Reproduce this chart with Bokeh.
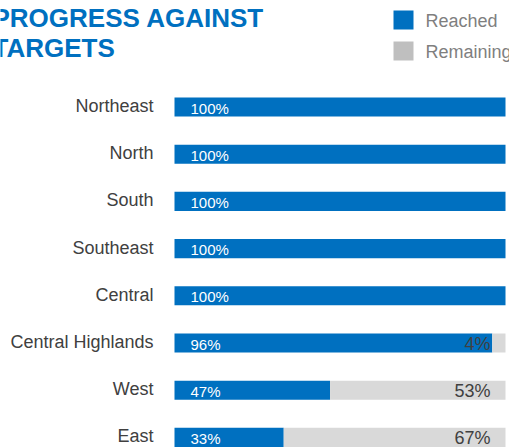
from bokeh.plotting import figure
from bokeh.models import Range1d, ColumnDataSource
from bokeh.core.properties import value
from bokeh.embed import file_html
from bokeh.resources import INLINE

# ---- data ----
regions = ["Northeast", "North", "South", "Southeast", "Central",
           "Central Highlands", "West", "East"]
reached = [100, 100, 100, 100, 100, 96, 47, 33]
remaining = [0, 0, 0, 0, 0, 4, 53, 67]
title_lines = ["PROGRESS AGAINST", "TARGETS"]
legend_labels = ["Reached", "Remaining"]

BLUE = "#0070C0"
GRAY = "#D9D9D9"
LEG_GRAY = "#BFBFBF"
FONT = value("Liberation Sans")

W, H = 509, 448
X0, XS = 174.0, 3.31      # pixel of x=0, pixels per unit
Y0, YS = 106.5, 47.2      # pixel of first row centre, pixels per row

def dx(px):
    return (px - X0) / XS

def dy(py):
    return (py - Y0) / YS

p = figure(width=W, height=H, output_backend="svg", toolbar_location=None,
           x_range=Range1d(dx(0), dx(W)), y_range=Range1d(dy(H), dy(0)),
           min_border=0, outline_line_color=None)
p.axis.visible = False
p.grid.visible = False

idx = list(range(len(regions)))
src = ColumnDataSource(dict(
    y=idx, reached=reached, remaining=remaining, total=[r + m for r, m in zip(reached, remaining)],
    reg=regions, rlab=[f"{v}%" for v in reached],
))
p.hbar(y="y", left=0, right="reached", height=0.405, source=src,
       fill_color=BLUE, line_color=None)
p.hbar(y="y", left="reached", right="total", height=0.405, source=src,
       fill_color=GRAY, line_color=None)

p.text(x=0, y="y", text="rlab", source=src, x_offset=16, y_offset=1,
       text_color="white", text_font=FONT, text_font_size="15px",
       text_baseline="middle", text_align="left")

rem_idx = [i for i, v in enumerate(remaining) if v > 0]
rem_src = ColumnDataSource(dict(
    y=rem_idx, x=[reached[i] + remaining[i] for i in rem_idx],
    t=[f"{remaining[i]}%" for i in rem_idx]))
p.text(x="x", y="y", text="t", source=rem_src, x_offset=-15, y_offset=1,
       text_color="#404040", text_font=FONT, text_font_size="18px",
       text_baseline="middle", text_align="right")

p.text(x=0, y="y", text="reg", source=src, x_offset=-21, y_offset=-1,
       text_color="#404040", text_font=FONT, text_font_size="18px",
       text_baseline="middle", text_align="right")

# title
p.text(x=[dx(-8)] * 2, y=[dy(17), dy(47)], text=title_lines,
       text_color=BLUE, text_font=FONT, text_font_size="26px",
       text_font_style="bold", text_baseline="middle", text_align="left")

# legend
p.rect(x=[dx(403)] * 2, y=[dy(19.5), dy(50.5)], width=20, height=19,
       width_units="screen", height_units="screen",
       fill_color=[BLUE, LEG_GRAY], line_color=None)
p.text(x=[dx(425)] * 2, y=[dy(20), dy(51)], text=legend_labels,
       text_color="#7F7F7F", text_font=FONT, text_font_size="18px",
       text_baseline="middle", text_align="left")

open("out.html", "w").write(file_html(p, INLINE))
